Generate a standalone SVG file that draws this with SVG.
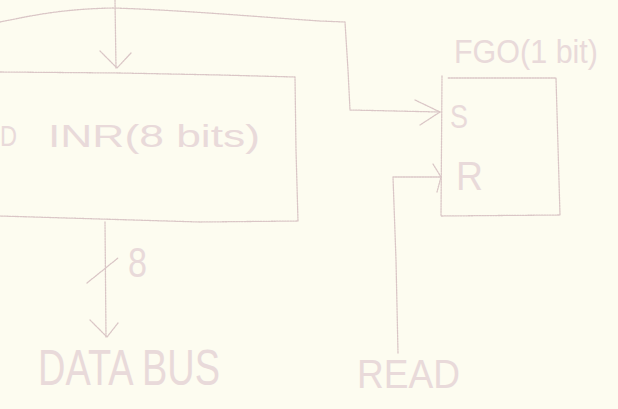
<svg xmlns="http://www.w3.org/2000/svg" width="618" height="409" viewBox="0 0 618 409">
  <style>
    .pen { fill: none; stroke: #dac6c6; stroke-width: 1.3; stroke-dasharray: 1.6 1.1; stroke-linecap: round; stroke-linejoin: round; }
    .ink { fill: #e9dada; font-family: "Liberation Sans", "DejaVu Sans", sans-serif; }
  </style>
  <rect x="0" y="0" width="618" height="409" fill="#fdfcf0"/>

  <!-- INR register block (left edge runs off the sheet) -->
  <g id="inr">
    <path class="pen" d="M0,72 L120,73 L220,75 L295,77 L296,150 L298,221 L200,222 L100,219 L0,216"/>
    <text class="ink" x="0" y="146" font-size="30" textLength="17" lengthAdjust="spacingAndGlyphs">D</text>
    <text class="ink" x="48" y="147" font-size="32" textLength="212" lengthAdjust="spacingAndGlyphs">INR(8 bits)</text>
  </g>

  <!-- FGO flag flip-flop -->
  <g id="fgo">
    <path class="pen" d="M442,76 L441,216 L560,215 L556,78 L448,78"/>
    <text class="ink" x="454" y="63" font-size="33" textLength="144" lengthAdjust="spacingAndGlyphs">FGO(1 bit)</text>
    <text class="ink" x="450" y="128" font-size="34" textLength="18" lengthAdjust="spacingAndGlyphs">S</text>
    <text class="ink" x="456" y="190" font-size="40" textLength="27" lengthAdjust="spacingAndGlyphs">R</text>
  </g>

  <!-- free labels -->
  <g id="data-bus">
    <text class="ink" x="38" y="385" font-size="50" textLength="182" lengthAdjust="spacingAndGlyphs">DATA BUS</text>
  </g>
  <g id="read">
    <text class="ink" x="357" y="388" font-size="40" textLength="103" lengthAdjust="spacingAndGlyphs">READ</text>
  </g>
  <g id="width">
    <text class="ink" x="128" y="277" font-size="42" textLength="19" lengthAdjust="spacingAndGlyphs">8</text>
  </g>

  <!-- connectors -->
  <g id="connectors">
    <!-- top line feeding INR and branching to FGO S -->
    <path class="pen" d="M0,22 C30,16 60,9 113,8 C180,10 260,17 320,21 L345,22 L348,70 L350,110 L440,112"/>
    <path class="pen" d="M115,0 L116,68"/>
    <path class="pen" d="M100,51 L117,68 L131,53"/>
    <path class="pen" d="M415,100 L440,112 L420,125"/>
    <!-- INR to data bus, 8 bits -->
    <path class="pen" d="M105,222 L106,337"/>
    <path class="pen" d="M90,320 L107,337 L118,323"/>
    <path class="pen" d="M87,283 L118,258"/>
    <!-- READ to FGO R -->
    <path class="pen" d="M398,353 L396,260 L393,177 L440,177"/>
    <path class="pen" d="M433,164 L441,177 L437,192"/>
  </g>
</svg>
